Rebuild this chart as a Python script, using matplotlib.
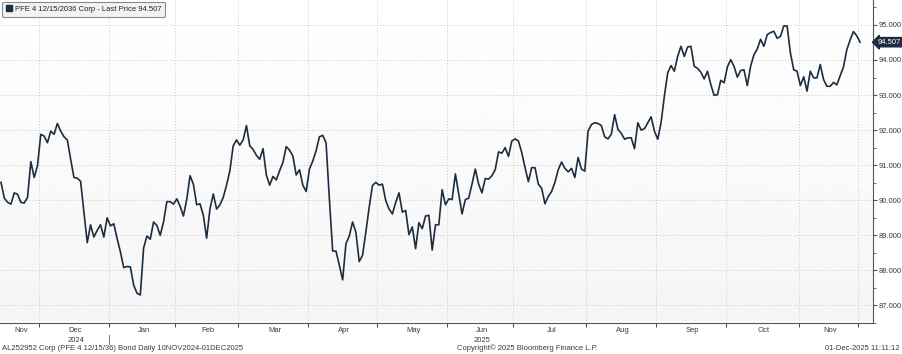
import numpy as np
import pandas as pd
import matplotlib
matplotlib.use("Agg")
import matplotlib.pyplot as plt
from matplotlib.lines import Line2D
from matplotlib.transforms import blended_transform_factory

# daily last price (Nov 2024 -> Dec 2025)
price_2024q4 = [
    90.51, 90.06, 89.94, 89.89, 90.21, 90.17, 89.94, 89.92, 90.08, 91.10,
    90.65, 90.98, 91.88, 91.83, 91.64, 91.97, 91.88, 92.19, 91.97, 91.81,
    91.72, 91.17, 90.65, 90.63, 90.54, 89.66, 88.79, 89.30, 88.95, 89.14,
    89.30, 88.95, 89.50, 89.27, 89.33, 88.91, 88.53, 88.08, 88.11, 88.10,
    87.58, 87.35, 87.30, 88.64, 88.98, 88.89, 89.38, 89.28, 89.00, 89.38,
    89.96, 89.96, 89.89, 90.04, 89.83, 89.55, 90.02, 90.70, 90.46, 89.87,
    89.90, 89.57, 88.92, 89.75, 90.18, 89.75, 89.87, 90.08, 90.43, 90.84,
    91.55,
]
price_spring = [
    91.72, 91.57, 91.72, 92.13, 91.55, 91.45, 91.28, 91.17, 91.47, 90.72,
    90.43, 90.68, 90.58, 90.84, 91.08, 91.53, 91.43, 91.26, 90.72, 90.87,
    90.43, 90.25, 90.89, 91.12, 91.41, 91.81, 91.85, 91.64, 90.04, 88.55,
    88.55, 88.15, 87.73, 88.76, 88.98, 89.38, 89.09, 88.25, 88.43, 89.09,
    89.80, 90.42, 90.51, 90.43, 90.46, 89.99, 89.75, 89.61, 89.94, 90.21,
    89.66, 89.71, 89.02, 89.24, 88.62, 89.36, 89.19, 89.55, 89.57, 88.58,
    89.30, 89.30, 90.30, 89.87,
]
price_summer = [
    90.04, 90.02, 90.75, 90.18, 89.61, 90.02, 90.06, 90.46, 90.89, 90.46,
    90.21, 90.62, 90.60, 90.70, 90.87, 91.38, 91.34, 91.50, 91.25, 91.69,
    91.75, 91.69, 91.36, 90.93, 90.53, 90.93, 90.93, 90.46, 90.34, 89.90,
    90.11, 90.25, 90.51, 90.87, 91.09, 90.91, 90.81, 90.91, 90.65, 91.22,
    90.89, 90.83, 91.97, 92.16, 92.21, 92.19, 92.13, 91.81, 91.75, 91.88,
    92.44, 92.02, 91.91, 91.74, 91.78, 91.78, 91.47, 92.21, 92.00, 92.04,
    92.21, 92.38, 91.97,
]
price_autumn = [
    91.74, 92.21, 92.97, 93.63, 93.84, 93.68, 94.10, 94.39, 94.10, 94.37,
    94.39, 93.82, 93.76, 93.65, 93.46, 93.68, 93.30, 92.99, 93.01, 93.42,
    93.35, 93.80, 94.01, 93.82, 93.51, 93.70, 93.72, 93.27, 93.82, 94.15,
    94.31, 94.59, 94.39, 94.72, 94.78, 94.82, 94.62, 94.67, 94.97, 94.97,
    94.20, 93.72, 93.68, 93.27, 93.52, 93.11, 93.68, 93.49, 93.49, 93.87,
    93.44, 93.25, 93.25, 93.36, 93.29, 93.55, 93.80, 94.29, 94.57, 94.81,
    94.69, 94.507,
]
prices = price_2024q4 + price_spring + price_summer + price_autumn
last_price = 94.507

# bond market holidays, skipped on a Bloomberg daily chart
holidays = ["2024-11-28", "2024-12-25", "2025-01-01", "2025-01-09", "2025-01-20",
            "2025-02-17", "2025-04-18", "2025-05-26", "2025-06-19", "2025-07-04",
            "2025-09-01", "2025-10-13", "2025-11-11", "2025-11-27"]
trading = pd.bdate_range("2024-11-11", "2025-12-01")
trading = trading[~trading.isin(pd.to_datetime(holidays))]
dates = trading[-len(prices):]

y_ticks = [87, 88, 89, 90, 91, 92, 93, 94, 95]
year_labels = {(2024, 12): "2024", (2025, 6): "2025"}

plt.rcParams["font.family"] = ["Liberation Sans", "DejaVu Sans"]
navy = "#1c2d3f"
txt = "#3a3a3a"
fs = 5.5

fig = plt.figure(figsize=(9.03, 3.54), dpi=100)
ax = fig.add_axes([0.0, 1 - 323 / 354, 873 / 903, 323 / 354])

n = len(prices)
x = np.arange(n)
xmax = n - 1 + 3.9
ymin, ymax = 86.55, 95.71

# soft grey gradient behind the plot
grad = np.linspace(1.0, 0.96, 256).reshape(-1, 1)
ax.imshow(grad, cmap="gray", vmin=0, vmax=1, aspect="auto",
          extent=[-0.3, xmax, ymin, ymax], zorder=0)

ax.plot(x, prices, color=navy, lw=1.2, zorder=3)

ax.set_xlim(-0.3, xmax)
ax.set_ylim(ymin, ymax)

# month boundaries and labels
months = pd.Series(dates.to_period("M"))
bounds = [i for i in range(1, n) if months[i] != months[i - 1]]
ax.set_xticks([b - 0.5 for b in bounds])
ax.set_xticklabels([])
ax.tick_params(axis="x", length=3, color="#555555", width=0.8)
ax.grid(True, axis="both", color="#c8c8c8", ls=(0, (1, 2)), lw=0.7, zorder=1)

trans = blended_transform_factory(ax.transData, fig.transFigure)
edges = [0] + bounds + [xmax]
for k in range(len(edges) - 1):
    s, e = edges[k], edges[k + 1]
    if e - s < 8:
        continue
    d = dates[min(int(s), n - 1)]
    cx = (s + e) / 2
    fig.text(cx, 1 - 330 / 354, d.strftime("%b"), transform=trans,
             ha="center", va="center", fontsize=fs, color=txt)
    yl = year_labels.get((d.year, d.month))
    if yl:
        fig.text(cx, 1 - 340 / 354, yl, transform=trans,
                 ha="center", va="center", fontsize=fs, color=txt)
# year separator under January
jan = [b for b in bounds if dates[b].month == 1][0] - 0.5
fig.add_artist(Line2D([jan, jan], [1 - 335 / 354, 1 - 344 / 354], transform=trans,
                      color="#777777", lw=0.7))

# right price axis
ax.yaxis.tick_right()
ax.set_yticks(y_ticks)
ax.set_yticklabels([f"{v:.3f}" for v in y_ticks])
ax.set_yticks(np.arange(86.5, 95.6, 0.5), minor=True)
ax.tick_params(axis="y", which="major", length=3, pad=1, labelsize=fs,
               labelcolor=txt, color="#555555", width=0.8)
ax.tick_params(axis="y", which="minor", length=2, color="#555555", width=0.6)
for side in ["top", "left"]:
    ax.spines[side].set_visible(False)
for side in ["bottom", "right"]:
    ax.spines[side].set_color("#555555")
    ax.spines[side].set_linewidth(0.8)

# last price tag
tr_tag = blended_transform_factory(ax.transAxes, ax.transData)
ax.text(1.005, last_price, f"{last_price:.3f}", transform=tr_tag, ha="left",
        va="center", fontsize=fs, color="white", zorder=5, clip_on=False,
        bbox=dict(boxstyle="larrow,pad=0.15", fc=navy, ec=navy))

# legend box
handle = Line2D([], [], ls="none", marker="s", ms=4.5, color=navy)
leg = ax.legend([handle], [f"PFE 4 12/15/2036 Corp - Last Price {last_price:.3f}"],
                loc="upper left", bbox_to_anchor=(0.002, 0.995), fontsize=fs,
                frameon=True, fancybox=True, handlelength=0.8, handletextpad=0.4,
                borderpad=0.5, borderaxespad=0.0)
leg.get_frame().set_facecolor("#f2f2f2")
leg.get_frame().set_edgecolor("#8a8a8a")
leg.get_frame().set_linewidth(0.8)
leg.get_frame().set_alpha(1)
for t in leg.get_texts():
    t.set_color("#222222")

# footer
fig.text(2 / 903, 1 - 348 / 354, "AL252952 Corp (PFE 4 12/15/36) Bond Daily 10NOV2024-01DEC2025",
         ha="left", va="center", fontsize=fs, color=txt)
fig.text(527 / 903, 1 - 348 / 354, "Copyright\u00a9 2025 Bloomberg Finance L.P.",
         ha="center", va="center", fontsize=fs, color=txt)
fig.text(900 / 903, 1 - 348 / 354, "01-Dec-2025 11:11:12",
         ha="right", va="center", fontsize=fs, color=txt)

fig.savefig("out.png", dpi=100)
